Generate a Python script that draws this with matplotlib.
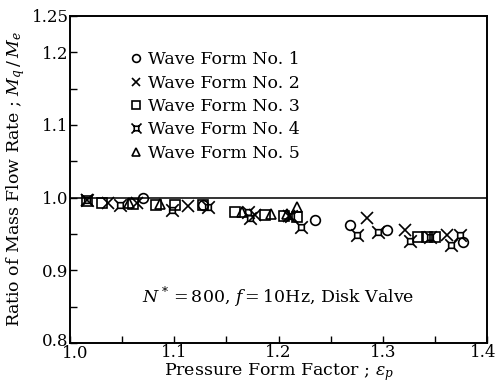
import numpy as np
import matplotlib
matplotlib.use('Agg')
import matplotlib.pyplot as plt
import matplotlib.transforms as mtransforms
from matplotlib.path import Path

plt.rcParams['font.family'] = ['DejaVu Serif']
plt.rcParams['mathtext.fontset'] = 'dejavuserif'

# Data: (pressure form factor, mass flow ratio)
wave1_x = [1.070, 1.128, 1.235, 1.269, 1.304, 1.377]
wave1_y = [1.000, 0.990, 0.969, 0.962, 0.956, 0.939]

wave2_x = [1.016, 1.036, 1.064, 1.113, 1.177, 1.210, 1.285, 1.321, 1.362]
wave2_y = [0.997, 0.993, 0.993, 0.988, 0.976, 0.975, 0.972, 0.956, 0.949]

wave3_x = [1.016, 1.031, 1.060, 1.082, 1.101, 1.128, 1.158, 1.187, 1.205,
           1.218, 1.334, 1.342, 1.350]
wave3_y = [0.996, 0.993, 0.992, 0.990, 0.990, 0.990, 0.980, 0.976, 0.975,
           0.974, 0.946, 0.946, 0.946]

wave4_x = [1.016, 1.048, 1.098, 1.132, 1.171, 1.173, 1.212, 1.222, 1.275,
           1.295, 1.326, 1.345, 1.365, 1.374]
wave4_y = [0.997, 0.990, 0.983, 0.987, 0.980, 0.972, 0.975, 0.960, 0.949,
           0.953, 0.940, 0.946, 0.935, 0.949]

wave5_x = [1.057, 1.086, 1.165, 1.193, 1.208, 1.218]
wave5_y = [0.993, 0.991, 0.980, 0.977, 0.978, 0.987]

labels = ['Wave Form No. 1', 'Wave Form No. 2', 'Wave Form No. 3',
          'Wave Form No. 4', 'Wave Form No. 5']

# square with diagonal spikes out of the corners
verts = [(-0.45, -0.45), (0.45, -0.45), (0.45, 0.45), (-0.45, 0.45), (-0.45, -0.45),
         (-0.45, -0.45), (-1, -1), (0.45, -0.45), (1, -1),
         (0.45, 0.45), (1, 1), (-0.45, 0.45), (-1, 1)]
codes = [Path.MOVETO, Path.LINETO, Path.LINETO, Path.LINETO, Path.CLOSEPOLY,
         Path.MOVETO, Path.LINETO, Path.MOVETO, Path.LINETO,
         Path.MOVETO, Path.LINETO, Path.MOVETO, Path.LINETO]
spiky = Path(verts, codes)

fig = plt.figure(figsize=(4.98, 3.89), dpi=100)
ax = fig.add_axes([0.1406, 0.118, 0.8374, 0.841])

ax.axhline(1.0, color='#333333', lw=1.4, zorder=1)

style = dict(ls='none', color='black', mfc='none', mew=1.2)
ax.plot(wave1_x, wave1_y, marker='o', ms=7, label=labels[0], **style)
ax.plot(wave2_x, wave2_y, marker='x', ms=8, label=labels[1], **style)
ax.plot(wave3_x, wave3_y, marker='s', ms=7, label=labels[2], **style)
ax.plot(wave4_x, wave4_y, marker=spiky, ms=9, label=labels[3], **style)
ax.plot(wave5_x, wave5_y, marker='^', ms=7, label=labels[4], **style)

ax.set_xlim(1.0, 1.4)
ax.set_ylim(0.8, 1.25)
ax.set_xticks(np.arange(1.0, 1.41, 0.05))
ax.set_xticklabels(['1.0', '', '1.1', '', '1.2', '', '1.3', '', '1.4'])
ax.set_yticks([0.8, 0.85, 0.9, 0.95, 1.0, 1.05, 1.1, 1.15, 1.2, 1.25])
ax.set_yticklabels(['0.8', '', '0.9', '', '1.0', '', '1.1', '', '1.2', '1.25'])
ax.tick_params(direction='in', length=5, width=1.0, labelsize=12, pad=1)

def nudge(lab, dx, dy):
    lab.set_transform(lab.get_transform() +
                      mtransforms.ScaledTranslation(dx / 100, dy / 100, fig.dpi_scale_trans))

# pull the corner labels apart so they stay on the canvas and don't collide
xlabs = ax.get_xticklabels()
nudge(xlabs[0], 5, -1)
nudge(xlabs[-1], -4, 0)
nudge(ax.get_yticklabels()[0], 0, 4)

for s in ax.spines.values():
    s.set_linewidth(1.4)

ax.set_xlabel(r'Pressure Form Factor ; $\varepsilon_p$', fontsize=12.5, labelpad=-1)
ax.set_ylabel(r'Ratio of Mass Flow Rate ; $M_q\,/\,M_e$', fontsize=12.5, labelpad=3)

ax.legend(loc='upper left', bbox_to_anchor=(0.1, 0.94), frameon=False,
          fontsize=12.5, handletextpad=0.2, labelspacing=0.37,
          handlelength=1.0, markerscale=0.8)

ax.text(0.5, 0.14, r'$N^*$$=$800, $f$$=$10Hz, Disk Valve', transform=ax.transAxes,
        ha='center', va='center', fontsize=12.5)

fig.savefig('out.png', dpi=100)
